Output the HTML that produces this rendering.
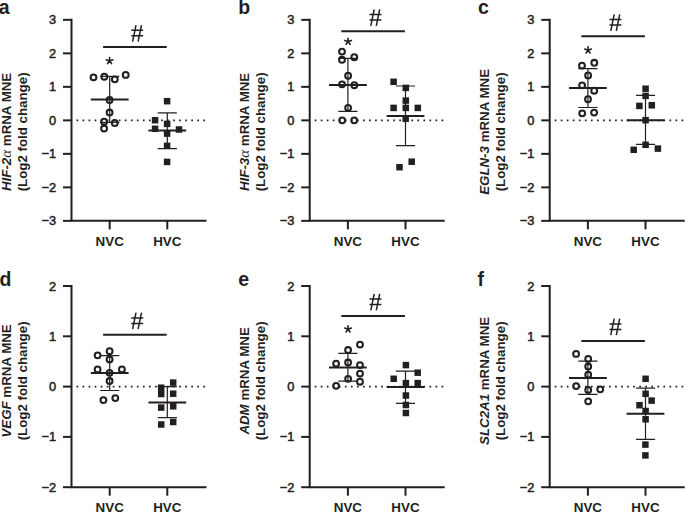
<!DOCTYPE html>
<html><head><meta charset="utf-8"><style>
html,body{margin:0;padding:0;background:#fff;}
svg{display:block;}
text{font-family:"Liberation Sans", sans-serif;fill:#231f20;}
.tk{font-size:12.8px;text-anchor:end;stroke:#231f20;stroke-width:0.5px;}
.xl{font-size:13.4px;font-weight:bold;text-anchor:middle;}
.yl{font-size:13.3px;font-weight:bold;text-anchor:middle;}
.gr{font-family:"Liberation Serif",serif;font-style:italic;font-weight:normal;font-size:15px;}
.pl{font-size:19.5px;font-weight:bold;}
</style></head><body>
<svg width="685" height="513" viewBox="0 0 685 513">
<rect width="685" height="513" fill="#fff"/>
<path d="M71.5 18.85V220.85H206.5" fill="none" stroke="#231f20" stroke-width="2"/>
<path d="M63 220.85H71.5" stroke="#231f20" stroke-width="2"/>
<text x="56.2" y="225.35" class="tk">−3</text>
<path d="M63 187.35H71.5" stroke="#231f20" stroke-width="2"/>
<text x="56.2" y="191.85" class="tk">−2</text>
<path d="M63 153.85H71.5" stroke="#231f20" stroke-width="2"/>
<text x="56.2" y="158.35" class="tk">−1</text>
<path d="M63 120.35H71.5" stroke="#231f20" stroke-width="2"/>
<text x="56.2" y="124.85" class="tk">0</text>
<path d="M63 86.85H71.5" stroke="#231f20" stroke-width="2"/>
<text x="56.2" y="91.35" class="tk">1</text>
<path d="M63 53.35H71.5" stroke="#231f20" stroke-width="2"/>
<text x="56.2" y="57.85" class="tk">2</text>
<path d="M63 19.85H71.5" stroke="#231f20" stroke-width="2"/>
<text x="56.2" y="24.35" class="tk">3</text>
<path d="M109.7 220.85V229.35" stroke="#231f20" stroke-width="2"/>
<path d="M167.3 220.85V229.35" stroke="#231f20" stroke-width="2"/>
<text x="109.7" y="245.55" class="xl">NVC</text>
<text x="167.3" y="245.55" class="xl">HVC</text>
<path d="M76.5 120.35H206.5" stroke="#231f20" stroke-width="1.7" stroke-dasharray="1.7 4.34"/>
<text transform="translate(11.2 131.9) rotate(-90)" class="yl"><tspan font-style="italic">HIF-2</tspan><tspan class="gr">α</tspan> mRNA MNE</text>
<text transform="translate(27 131.9) rotate(-90)" class="yl">(Log2 fold change)</text>
<text x="-1.2" y="13.8" class="pl">a</text>
<path d="M103.1 47H166.7" stroke="#231f20" stroke-width="2"/>
<path d="M136 25.1L132.6 41.6M141.5 25.1L138.1 41.6M131.3 30.3H143.2M131.3 35.8H143.2" stroke="#231f20" stroke-width="1.5" fill="none"/>
<path d="M109.55 60.9l0 -3.4M109.55 60.9l-3.3 -1.2M109.55 60.9l3.3 -1.2M109.55 60.9l-2 2.7M109.55 60.9l2 2.7" stroke="#231f20" stroke-width="1.6" stroke-linecap="round" fill="none"/>
<path d="M109.7 76.4V122.4M100.1 76.4H119.3M100.1 122.4H119.3" stroke="#231f20" stroke-width="1.2" fill="none"/>
<path d="M90.8 99.4H128.6" stroke="#231f20" stroke-width="2"/>
<path d="M167.3 112.9V148.6M157.7 112.9H176.9M157.7 148.6H176.9" stroke="#231f20" stroke-width="1.2" fill="none"/>
<path d="M148.4 130.5H186.2" stroke="#231f20" stroke-width="2"/>
<circle cx="93.5" cy="77.3" r="2.9" fill="none" stroke="#231f20" stroke-width="2.05"/>
<circle cx="104.3" cy="76.7" r="2.9" fill="none" stroke="#231f20" stroke-width="2.05"/>
<circle cx="114.8" cy="79.3" r="2.9" fill="none" stroke="#231f20" stroke-width="2.05"/>
<circle cx="125.7" cy="74.9" r="2.9" fill="none" stroke="#231f20" stroke-width="2.05"/>
<circle cx="109.6" cy="100" r="2.9" fill="none" stroke="#231f20" stroke-width="2.05"/>
<circle cx="109.6" cy="112.5" r="2.9" fill="none" stroke="#231f20" stroke-width="2.05"/>
<circle cx="104.1" cy="121.7" r="2.9" fill="none" stroke="#231f20" stroke-width="2.05"/>
<circle cx="114.8" cy="123" r="2.9" fill="none" stroke="#231f20" stroke-width="2.05"/>
<circle cx="104.1" cy="128.5" r="2.9" fill="none" stroke="#231f20" stroke-width="2.05"/>
<rect x="163.85" y="97.95" width="6.5" height="6.5" fill="#231f20"/>
<rect x="151.85" y="116.95" width="6.5" height="6.5" fill="#231f20"/>
<rect x="163.85" y="120.65" width="6.5" height="6.5" fill="#231f20"/>
<rect x="151.85" y="125.55" width="6.5" height="6.5" fill="#231f20"/>
<rect x="175.75" y="126.25" width="6.5" height="6.5" fill="#231f20"/>
<rect x="163.85" y="130.35" width="6.5" height="6.5" fill="#231f20"/>
<rect x="163.85" y="142.55" width="6.5" height="6.5" fill="#231f20"/>
<rect x="163.85" y="158.65" width="6.5" height="6.5" fill="#231f20"/>
<path d="M309.7 18.85V220.85H444.7" fill="none" stroke="#231f20" stroke-width="2"/>
<path d="M301.2 220.85H309.7" stroke="#231f20" stroke-width="2"/>
<text x="294.4" y="225.35" class="tk">−3</text>
<path d="M301.2 187.35H309.7" stroke="#231f20" stroke-width="2"/>
<text x="294.4" y="191.85" class="tk">−2</text>
<path d="M301.2 153.85H309.7" stroke="#231f20" stroke-width="2"/>
<text x="294.4" y="158.35" class="tk">−1</text>
<path d="M301.2 120.35H309.7" stroke="#231f20" stroke-width="2"/>
<text x="294.4" y="124.85" class="tk">0</text>
<path d="M301.2 86.85H309.7" stroke="#231f20" stroke-width="2"/>
<text x="294.4" y="91.35" class="tk">1</text>
<path d="M301.2 53.35H309.7" stroke="#231f20" stroke-width="2"/>
<text x="294.4" y="57.85" class="tk">2</text>
<path d="M301.2 19.85H309.7" stroke="#231f20" stroke-width="2"/>
<text x="294.4" y="24.35" class="tk">3</text>
<path d="M347.9 220.85V229.35" stroke="#231f20" stroke-width="2"/>
<path d="M405.5 220.85V229.35" stroke="#231f20" stroke-width="2"/>
<text x="347.9" y="245.55" class="xl">NVC</text>
<text x="405.5" y="245.55" class="xl">HVC</text>
<path d="M314.7 120.35H444.7" stroke="#231f20" stroke-width="1.7" stroke-dasharray="1.7 4.34"/>
<text transform="translate(249.4 131.9) rotate(-90)" class="yl"><tspan font-style="italic">HIF-3</tspan><tspan class="gr">α</tspan> mRNA MNE</text>
<text transform="translate(265.2 131.9) rotate(-90)" class="yl">(Log2 fold change)</text>
<text x="238.3" y="13.8" class="pl">b</text>
<path d="M341.3 31.2H404.9" stroke="#231f20" stroke-width="2"/>
<path d="M374.2 9.4L370.8 25.9M379.7 9.4L376.3 25.9M369.5 14.6H381.4M369.5 20.1H381.4" stroke="#231f20" stroke-width="1.5" fill="none"/>
<path d="M348.1 41.6l0 -3.4M348.1 41.6l-3.3 -1.2M348.1 41.6l3.3 -1.2M348.1 41.6l-2 2.7M348.1 41.6l2 2.7" stroke="#231f20" stroke-width="1.6" stroke-linecap="round" fill="none"/>
<path d="M347.9 58.4V111.4M338.3 58.4H357.5M338.3 111.4H357.5" stroke="#231f20" stroke-width="1.2" fill="none"/>
<path d="M329 84.9H366.8" stroke="#231f20" stroke-width="2"/>
<path d="M405.5 86V145.7M395.9 86H415.1M395.9 145.7H415.1" stroke="#231f20" stroke-width="1.2" fill="none"/>
<path d="M386.6 115.9H424.4" stroke="#231f20" stroke-width="2"/>
<circle cx="342" cy="51.6" r="2.9" fill="none" stroke="#231f20" stroke-width="2.05"/>
<circle cx="342" cy="59.8" r="2.9" fill="none" stroke="#231f20" stroke-width="2.05"/>
<circle cx="354.3" cy="57.2" r="2.9" fill="none" stroke="#231f20" stroke-width="2.05"/>
<circle cx="348.1" cy="75.7" r="2.9" fill="none" stroke="#231f20" stroke-width="2.05"/>
<circle cx="342" cy="84.3" r="2.9" fill="none" stroke="#231f20" stroke-width="2.05"/>
<circle cx="354.3" cy="85.2" r="2.9" fill="none" stroke="#231f20" stroke-width="2.05"/>
<circle cx="348.1" cy="107.8" r="2.9" fill="none" stroke="#231f20" stroke-width="2.05"/>
<circle cx="342.2" cy="120.3" r="2.9" fill="none" stroke="#231f20" stroke-width="2.05"/>
<circle cx="354.2" cy="120.3" r="2.9" fill="none" stroke="#231f20" stroke-width="2.05"/>
<rect x="390.35" y="78.55" width="6.5" height="6.5" fill="#231f20"/>
<rect x="402.55" y="84.65" width="6.5" height="6.5" fill="#231f20"/>
<rect x="402.55" y="97.35" width="6.5" height="6.5" fill="#231f20"/>
<rect x="390.35" y="104.65" width="6.5" height="6.5" fill="#231f20"/>
<rect x="402.55" y="104.65" width="6.5" height="6.5" fill="#231f20"/>
<rect x="414.55" y="104.65" width="6.5" height="6.5" fill="#231f20"/>
<rect x="402.45" y="115.45" width="6.5" height="6.5" fill="#231f20"/>
<rect x="408.45" y="158.45" width="6.5" height="6.5" fill="#231f20"/>
<rect x="396.25" y="163.95" width="6.5" height="6.5" fill="#231f20"/>
<path d="M549.7 18.85V220.85H684.7" fill="none" stroke="#231f20" stroke-width="2"/>
<path d="M541.2 220.85H549.7" stroke="#231f20" stroke-width="2"/>
<text x="534.4" y="225.35" class="tk">−3</text>
<path d="M541.2 187.35H549.7" stroke="#231f20" stroke-width="2"/>
<text x="534.4" y="191.85" class="tk">−2</text>
<path d="M541.2 153.85H549.7" stroke="#231f20" stroke-width="2"/>
<text x="534.4" y="158.35" class="tk">−1</text>
<path d="M541.2 120.35H549.7" stroke="#231f20" stroke-width="2"/>
<text x="534.4" y="124.85" class="tk">0</text>
<path d="M541.2 86.85H549.7" stroke="#231f20" stroke-width="2"/>
<text x="534.4" y="91.35" class="tk">1</text>
<path d="M541.2 53.35H549.7" stroke="#231f20" stroke-width="2"/>
<text x="534.4" y="57.85" class="tk">2</text>
<path d="M541.2 19.85H549.7" stroke="#231f20" stroke-width="2"/>
<text x="534.4" y="24.35" class="tk">3</text>
<path d="M587.9 220.85V229.35" stroke="#231f20" stroke-width="2"/>
<path d="M645.5 220.85V229.35" stroke="#231f20" stroke-width="2"/>
<text x="587.9" y="245.55" class="xl">NVC</text>
<text x="645.5" y="245.55" class="xl">HVC</text>
<path d="M554.7 120.35H684.7" stroke="#231f20" stroke-width="1.7" stroke-dasharray="1.7 4.34"/>
<text transform="translate(489.4 131.9) rotate(-90)" class="yl"><tspan font-style="italic">EGLN-3</tspan> mRNA MNE</text>
<text transform="translate(505.2 131.9) rotate(-90)" class="yl">(Log2 fold change)</text>
<text x="478" y="13.6" class="pl">c</text>
<path d="M581.3 36.2H644.9" stroke="#231f20" stroke-width="2"/>
<path d="M614.2 14.4L610.8 30.9M619.7 14.4L616.3 30.9M609.5 19.6H621.4M609.5 25.1H621.4" stroke="#231f20" stroke-width="1.5" fill="none"/>
<path d="M588.1 50.2l0 -3.4M588.1 50.2l-3.3 -1.2M588.1 50.2l3.3 -1.2M588.1 50.2l-2 2.7M588.1 50.2l2 2.7" stroke="#231f20" stroke-width="1.6" stroke-linecap="round" fill="none"/>
<path d="M587.9 68.6V107.5M578.3 68.6H597.5M578.3 107.5H597.5" stroke="#231f20" stroke-width="1.2" fill="none"/>
<path d="M569 88.1H606.8" stroke="#231f20" stroke-width="2"/>
<path d="M645.5 95.4V144.3M635.9 95.4H655.1M635.9 144.3H655.1" stroke="#231f20" stroke-width="1.2" fill="none"/>
<path d="M626.6 120.2H664.4" stroke="#231f20" stroke-width="2"/>
<circle cx="582" cy="65.6" r="2.9" fill="none" stroke="#231f20" stroke-width="2.05"/>
<circle cx="594.3" cy="62.8" r="2.9" fill="none" stroke="#231f20" stroke-width="2.05"/>
<circle cx="588.1" cy="75.4" r="2.9" fill="none" stroke="#231f20" stroke-width="2.05"/>
<circle cx="582.1" cy="85.3" r="2.9" fill="none" stroke="#231f20" stroke-width="2.05"/>
<circle cx="594.2" cy="90.7" r="2.9" fill="none" stroke="#231f20" stroke-width="2.05"/>
<circle cx="588" cy="99.2" r="2.9" fill="none" stroke="#231f20" stroke-width="2.05"/>
<circle cx="582.2" cy="113.3" r="2.9" fill="none" stroke="#231f20" stroke-width="2.05"/>
<circle cx="594.1" cy="112.6" r="2.9" fill="none" stroke="#231f20" stroke-width="2.05"/>
<rect x="642.35" y="85.45" width="6.5" height="6.5" fill="#231f20"/>
<rect x="642.35" y="92.65" width="6.5" height="6.5" fill="#231f20"/>
<rect x="636.15" y="102.65" width="6.5" height="6.5" fill="#231f20"/>
<rect x="648.55" y="102.05" width="6.5" height="6.5" fill="#231f20"/>
<rect x="642.35" y="116.95" width="6.5" height="6.5" fill="#231f20"/>
<rect x="642.35" y="141.55" width="6.5" height="6.5" fill="#231f20"/>
<rect x="630.45" y="146.55" width="6.5" height="6.5" fill="#231f20"/>
<rect x="654.65" y="145.35" width="6.5" height="6.5" fill="#231f20"/>
<path d="M71.5 285V487.2H206.5" fill="none" stroke="#231f20" stroke-width="2"/>
<path d="M63 487.2H71.5" stroke="#231f20" stroke-width="2"/>
<text x="56.2" y="491.7" class="tk">−2</text>
<path d="M63 436.9H71.5" stroke="#231f20" stroke-width="2"/>
<text x="56.2" y="441.4" class="tk">−1</text>
<path d="M63 386.6H71.5" stroke="#231f20" stroke-width="2"/>
<text x="56.2" y="391.1" class="tk">0</text>
<path d="M63 336.3H71.5" stroke="#231f20" stroke-width="2"/>
<text x="56.2" y="340.8" class="tk">1</text>
<path d="M63 286H71.5" stroke="#231f20" stroke-width="2"/>
<text x="56.2" y="290.5" class="tk">2</text>
<path d="M109.7 487.2V495.7" stroke="#231f20" stroke-width="2"/>
<path d="M167.3 487.2V495.7" stroke="#231f20" stroke-width="2"/>
<text x="109.7" y="511.9" class="xl">NVC</text>
<text x="167.3" y="511.9" class="xl">HVC</text>
<path d="M76.5 386.6H206.5" stroke="#231f20" stroke-width="1.7" stroke-dasharray="1.7 4.34"/>
<text transform="translate(11.2 380.9) rotate(-90)" class="yl"><tspan font-style="italic">VEGF</tspan> mRNA MNE</text>
<text transform="translate(27 380.9) rotate(-90)" class="yl">(Log2 fold change)</text>
<text x="-0.5" y="286.4" class="pl">d</text>
<path d="M103.1 334.8H166.7" stroke="#231f20" stroke-width="2"/>
<path d="M136 312.7L132.6 329.2M141.5 312.7L138.1 329.2M131.3 317.9H143.2M131.3 323.4H143.2" stroke="#231f20" stroke-width="1.5" fill="none"/>
<path d="M109.7 355.7V390.5M100.1 355.7H119.3M100.1 390.5H119.3" stroke="#231f20" stroke-width="1.2" fill="none"/>
<path d="M90.8 373.1H128.6" stroke="#231f20" stroke-width="2"/>
<path d="M167.3 386.6V417.6M157.7 386.6H176.9M157.7 417.6H176.9" stroke="#231f20" stroke-width="1.2" fill="none"/>
<path d="M148.4 402.4H186.2" stroke="#231f20" stroke-width="2"/>
<circle cx="97.6" cy="355.3" r="2.9" fill="none" stroke="#231f20" stroke-width="2.05"/>
<circle cx="109.6" cy="351.2" r="2.9" fill="none" stroke="#231f20" stroke-width="2.05"/>
<circle cx="109.6" cy="359.4" r="2.9" fill="none" stroke="#231f20" stroke-width="2.05"/>
<circle cx="97.6" cy="369.4" r="2.9" fill="none" stroke="#231f20" stroke-width="2.05"/>
<circle cx="121.9" cy="369.4" r="2.9" fill="none" stroke="#231f20" stroke-width="2.05"/>
<circle cx="109.6" cy="372.8" r="2.9" fill="none" stroke="#231f20" stroke-width="2.05"/>
<circle cx="109.6" cy="381" r="2.9" fill="none" stroke="#231f20" stroke-width="2.05"/>
<circle cx="115.3" cy="398.1" r="2.9" fill="none" stroke="#231f20" stroke-width="2.05"/>
<circle cx="103.4" cy="400.1" r="2.9" fill="none" stroke="#231f20" stroke-width="2.05"/>
<rect x="169.95" y="379.35" width="6.5" height="6.5" fill="#231f20"/>
<rect x="157.95" y="384.45" width="6.5" height="6.5" fill="#231f20"/>
<rect x="157.95" y="390.75" width="6.5" height="6.5" fill="#231f20"/>
<rect x="169.95" y="390.45" width="6.5" height="6.5" fill="#231f20"/>
<rect x="157.95" y="404.35" width="6.5" height="6.5" fill="#231f20"/>
<rect x="169.95" y="403.05" width="6.5" height="6.5" fill="#231f20"/>
<rect x="157.95" y="421.25" width="6.5" height="6.5" fill="#231f20"/>
<rect x="169.95" y="418.75" width="6.5" height="6.5" fill="#231f20"/>
<path d="M309.7 285V487.2H444.7" fill="none" stroke="#231f20" stroke-width="2"/>
<path d="M301.2 487.2H309.7" stroke="#231f20" stroke-width="2"/>
<text x="294.4" y="491.7" class="tk">−2</text>
<path d="M301.2 436.9H309.7" stroke="#231f20" stroke-width="2"/>
<text x="294.4" y="441.4" class="tk">−1</text>
<path d="M301.2 386.6H309.7" stroke="#231f20" stroke-width="2"/>
<text x="294.4" y="391.1" class="tk">0</text>
<path d="M301.2 336.3H309.7" stroke="#231f20" stroke-width="2"/>
<text x="294.4" y="340.8" class="tk">1</text>
<path d="M301.2 286H309.7" stroke="#231f20" stroke-width="2"/>
<text x="294.4" y="290.5" class="tk">2</text>
<path d="M347.9 487.2V495.7" stroke="#231f20" stroke-width="2"/>
<path d="M405.5 487.2V495.7" stroke="#231f20" stroke-width="2"/>
<text x="347.9" y="511.9" class="xl">NVC</text>
<text x="405.5" y="511.9" class="xl">HVC</text>
<path d="M314.7 386.6H444.7" stroke="#231f20" stroke-width="1.7" stroke-dasharray="1.7 4.34"/>
<text transform="translate(249.4 380.9) rotate(-90)" class="yl"><tspan font-style="italic">ADM</tspan> mRNA MNE</text>
<text transform="translate(265.2 380.9) rotate(-90)" class="yl">(Log2 fold change)</text>
<text x="238.2" y="286.4" class="pl">e</text>
<path d="M341.3 315.9H404.9" stroke="#231f20" stroke-width="2"/>
<path d="M374.2 293.9L370.8 310.4M379.7 293.9L376.3 310.4M369.5 299.1H381.4M369.5 304.6H381.4" stroke="#231f20" stroke-width="1.5" fill="none"/>
<path d="M348.1 329.2l0 -3.4M348.1 329.2l-3.3 -1.2M348.1 329.2l3.3 -1.2M348.1 329.2l-2 2.7M348.1 329.2l2 2.7" stroke="#231f20" stroke-width="1.6" stroke-linecap="round" fill="none"/>
<path d="M347.9 353.3V381.1M338.3 353.3H357.5M338.3 381.1H357.5" stroke="#231f20" stroke-width="1.2" fill="none"/>
<path d="M329 367.4H366.8" stroke="#231f20" stroke-width="2"/>
<path d="M405.5 371.1V403.4M395.9 371.1H415.1M395.9 403.4H415.1" stroke="#231f20" stroke-width="1.2" fill="none"/>
<path d="M386.6 386.9H424.4" stroke="#231f20" stroke-width="2"/>
<circle cx="360" cy="344.6" r="2.9" fill="none" stroke="#231f20" stroke-width="2.05"/>
<circle cx="348.1" cy="350" r="2.9" fill="none" stroke="#231f20" stroke-width="2.05"/>
<circle cx="336.1" cy="363.6" r="2.9" fill="none" stroke="#231f20" stroke-width="2.05"/>
<circle cx="348.1" cy="362.5" r="2.9" fill="none" stroke="#231f20" stroke-width="2.05"/>
<circle cx="360" cy="365.1" r="2.9" fill="none" stroke="#231f20" stroke-width="2.05"/>
<circle cx="360" cy="373.6" r="2.9" fill="none" stroke="#231f20" stroke-width="2.05"/>
<circle cx="348.1" cy="378.8" r="2.9" fill="none" stroke="#231f20" stroke-width="2.05"/>
<circle cx="360" cy="381.7" r="2.9" fill="none" stroke="#231f20" stroke-width="2.05"/>
<circle cx="336.1" cy="385.8" r="2.9" fill="none" stroke="#231f20" stroke-width="2.05"/>
<rect x="402.65" y="361.85" width="6.5" height="6.5" fill="#231f20"/>
<rect x="414.45" y="369.45" width="6.5" height="6.5" fill="#231f20"/>
<rect x="390.45" y="375.55" width="6.5" height="6.5" fill="#231f20"/>
<rect x="402.65" y="379.85" width="6.5" height="6.5" fill="#231f20"/>
<rect x="414.45" y="379.85" width="6.5" height="6.5" fill="#231f20"/>
<rect x="402.65" y="392.25" width="6.5" height="6.5" fill="#231f20"/>
<rect x="402.65" y="401.75" width="6.5" height="6.5" fill="#231f20"/>
<rect x="402.65" y="409.75" width="6.5" height="6.5" fill="#231f20"/>
<path d="M549.7 285V487.2H684.7" fill="none" stroke="#231f20" stroke-width="2"/>
<path d="M541.2 487.2H549.7" stroke="#231f20" stroke-width="2"/>
<text x="534.4" y="491.7" class="tk">−2</text>
<path d="M541.2 436.9H549.7" stroke="#231f20" stroke-width="2"/>
<text x="534.4" y="441.4" class="tk">−1</text>
<path d="M541.2 386.6H549.7" stroke="#231f20" stroke-width="2"/>
<text x="534.4" y="391.1" class="tk">0</text>
<path d="M541.2 336.3H549.7" stroke="#231f20" stroke-width="2"/>
<text x="534.4" y="340.8" class="tk">1</text>
<path d="M541.2 286H549.7" stroke="#231f20" stroke-width="2"/>
<text x="534.4" y="290.5" class="tk">2</text>
<path d="M587.9 487.2V495.7" stroke="#231f20" stroke-width="2"/>
<path d="M645.5 487.2V495.7" stroke="#231f20" stroke-width="2"/>
<text x="587.9" y="511.9" class="xl">NVC</text>
<text x="645.5" y="511.9" class="xl">HVC</text>
<path d="M554.7 386.6H684.7" stroke="#231f20" stroke-width="1.7" stroke-dasharray="1.7 4.34"/>
<text transform="translate(489.4 380.9) rotate(-90)" class="yl"><tspan font-style="italic">SLC2A1</tspan> mRNA MNE</text>
<text transform="translate(505.2 380.9) rotate(-90)" class="yl">(Log2 fold change)</text>
<text x="477.5" y="286.4" class="pl">f</text>
<path d="M581.3 340.9H644.9" stroke="#231f20" stroke-width="2"/>
<path d="M614.2 318.7L610.8 335.2M619.7 318.7L616.3 335.2M609.5 323.9H621.4M609.5 329.4H621.4" stroke="#231f20" stroke-width="1.5" fill="none"/>
<path d="M587.9 361.1V394.4M578.3 361.1H597.5M578.3 394.4H597.5" stroke="#231f20" stroke-width="1.2" fill="none"/>
<path d="M569 377.9H606.8" stroke="#231f20" stroke-width="2"/>
<path d="M645.5 388.1V439.3M635.9 388.1H655.1M635.9 439.3H655.1" stroke="#231f20" stroke-width="1.2" fill="none"/>
<path d="M626.6 413.8H664.4" stroke="#231f20" stroke-width="2"/>
<circle cx="576.1" cy="353.9" r="2.9" fill="none" stroke="#231f20" stroke-width="2.05"/>
<circle cx="588.2" cy="358.9" r="2.9" fill="none" stroke="#231f20" stroke-width="2.05"/>
<circle cx="588.2" cy="366.5" r="2.9" fill="none" stroke="#231f20" stroke-width="2.05"/>
<circle cx="588.2" cy="374.7" r="2.9" fill="none" stroke="#231f20" stroke-width="2.05"/>
<circle cx="576.1" cy="386.1" r="2.9" fill="none" stroke="#231f20" stroke-width="2.05"/>
<circle cx="588.2" cy="389.9" r="2.9" fill="none" stroke="#231f20" stroke-width="2.05"/>
<circle cx="600.2" cy="389.3" r="2.9" fill="none" stroke="#231f20" stroke-width="2.05"/>
<circle cx="588.2" cy="401.3" r="2.9" fill="none" stroke="#231f20" stroke-width="2.05"/>
<rect x="642.35" y="375.55" width="6.5" height="6.5" fill="#231f20"/>
<rect x="642.35" y="390.55" width="6.5" height="6.5" fill="#231f20"/>
<rect x="648.35" y="397.35" width="6.5" height="6.5" fill="#231f20"/>
<rect x="636.25" y="401.95" width="6.5" height="6.5" fill="#231f20"/>
<rect x="642.35" y="407.75" width="6.5" height="6.5" fill="#231f20"/>
<rect x="642.35" y="416.05" width="6.5" height="6.5" fill="#231f20"/>
<rect x="642.15" y="441.35" width="6.5" height="6.5" fill="#231f20"/>
<rect x="642.15" y="452.15" width="6.5" height="6.5" fill="#231f20"/>
</svg>
</body></html>
